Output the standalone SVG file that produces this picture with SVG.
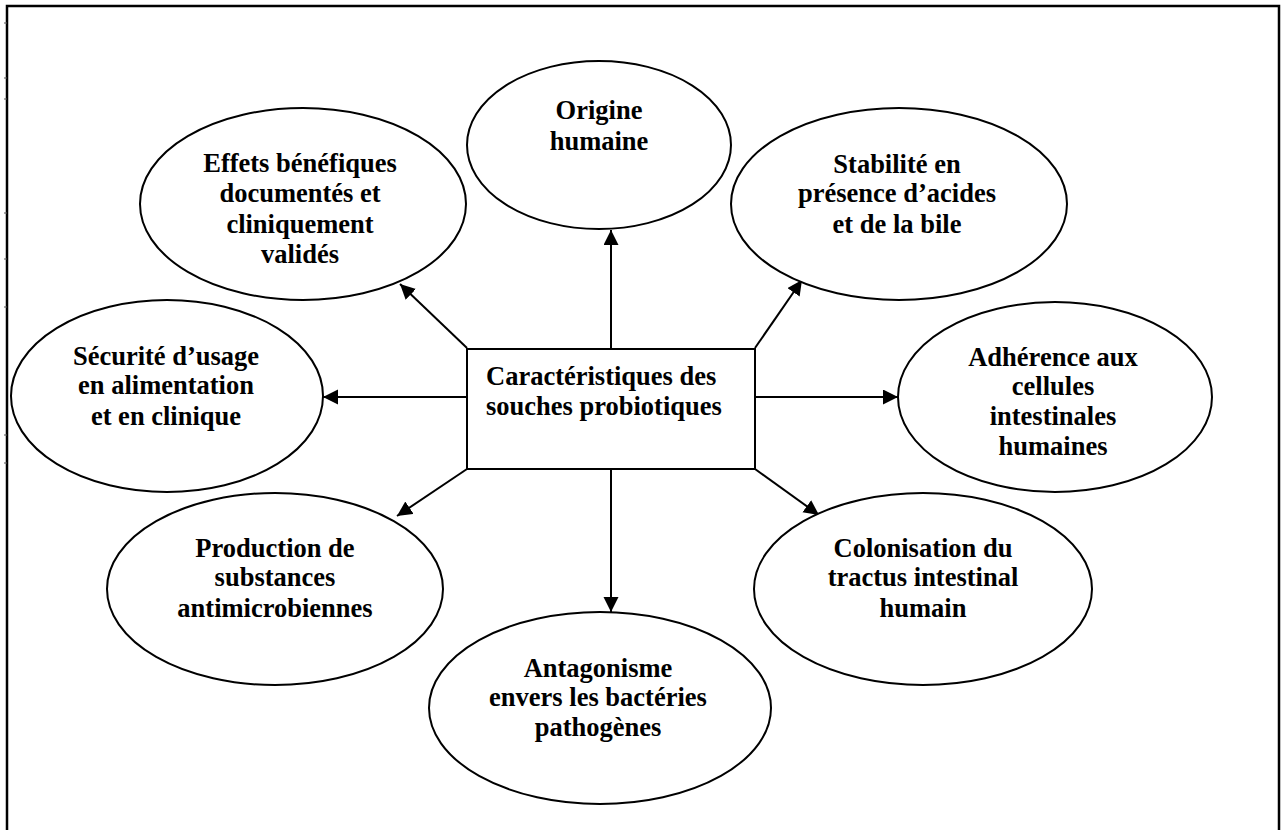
<svg xmlns="http://www.w3.org/2000/svg" width="1282" height="830" viewBox="0 0 1282 830">
<defs>
<marker id="arr" markerUnits="userSpaceOnUse" markerWidth="16" markerHeight="16" refX="15" refY="7.5" orient="auto">
<path d="M0,0 L15,7.5 L0,15 z" fill="#000"/>
</marker>
<style>
.n{fill:#fff;stroke:#000;stroke-width:2}
.t{font-family:"Liberation Serif","Times New Roman",serif;font-weight:bold;font-size:26.5px;fill:#000;text-anchor:middle}
.l{text-anchor:start}
.c line{stroke:#000;stroke-width:2;marker-end:url(#arr)}
.tick{stroke:#555;stroke-width:1}
</style>
</defs>
<rect x="0" y="0" width="1282" height="830" fill="#fff"/>
<rect id="frame" x="7" y="6" width="1272" height="840" fill="none" stroke="#000" stroke-width="2.5"/>
<g id="ticks">
<line class="tick" x1="4" y1="23" x2="7" y2="23"/>
<line class="tick" x1="4" y1="78" x2="7" y2="78"/>
<line class="tick" x1="4" y1="99" x2="7" y2="99"/>
<line class="tick" x1="4" y1="213" x2="7" y2="213"/>
<line class="tick" x1="4" y1="259" x2="7" y2="259"/>
<line class="tick" x1="4" y1="307" x2="7" y2="307"/>
<line class="tick" x1="4" y1="435" x2="7" y2="435"/>
<line class="tick" x1="4" y1="463" x2="7" y2="463"/>
</g>
<g id="connectors" class="c">
<line x1="611" y1="349" x2="611" y2="230"/>
<line x1="467" y1="348" x2="400" y2="284"/>
<line x1="755" y1="348" x2="802" y2="280"/>
<line x1="467" y1="397" x2="323" y2="397"/>
<line x1="755" y1="397" x2="898" y2="397"/>
<line x1="467" y1="469" x2="397" y2="516"/>
<line x1="755" y1="469" x2="819" y2="515"/>
<line x1="611" y1="469" x2="611" y2="612"/>
</g>
<g id="center">
<rect class="n" x="467" y="349" width="288" height="120"/>
<text class="t l" x="486" y="385">Caractéristiques des</text>
<text class="t l" x="486" y="415">souches probiotiques</text>
</g>
<g id="origine">
<ellipse class="n" cx="599" cy="145" rx="132" ry="84" fill="none"/>
<text class="t" x="599" y="119">Origine</text>
<text class="t" x="599" y="150">humaine</text>
</g>
<g id="effets">
<ellipse class="n" cx="303" cy="204" rx="163" ry="96"/>
<text class="t" x="300" y="172">Effets bénéfiques</text>
<text class="t" x="300" y="202">documentés et</text>
<text class="t" x="300" y="233">cliniquement</text>
<text class="t" x="300" y="263">validés</text>
</g>
<g id="stabilite">
<ellipse class="n" cx="899" cy="204" rx="168" ry="96"/>
<text class="t" x="897" y="173">Stabilité en</text>
<text class="t" x="897" y="202">présence d’acides</text>
<text class="t" x="897" y="233">et de la bile</text>
</g>
<g id="securite">
<ellipse class="n" cx="167" cy="396" rx="156" ry="96"/>
<text class="t" x="166" y="365">Sécurité d’usage</text>
<text class="t" x="166" y="394">en alimentation</text>
<text class="t" x="166" y="425">et en clinique</text>
</g>
<g id="adherence">
<ellipse class="n" cx="1055" cy="397" rx="157" ry="95"/>
<text class="t" x="1053" y="366">Adhérence aux</text>
<text class="t" x="1053" y="395">cellules</text>
<text class="t" x="1053" y="425">intestinales</text>
<text class="t" x="1053" y="455">humaines</text>
</g>
<g id="production">
<ellipse class="n" cx="275" cy="589" rx="168" ry="96"/>
<text class="t" x="275" y="557">Production de</text>
<text class="t" x="275" y="586">substances</text>
<text class="t" x="275" y="617">antimicrobiennes</text>
</g>
<g id="colonisation">
<ellipse class="n" cx="923" cy="589" rx="169" ry="96"/>
<text class="t" x="923" y="557">Colonisation du</text>
<text class="t" x="923" y="586">tractus intestinal</text>
<text class="t" x="923" y="617">humain</text>
</g>
<g id="antagonisme">
<ellipse class="n" cx="600" cy="708" rx="171" ry="96"/>
<text class="t" x="598" y="677">Antagonisme</text>
<text class="t" x="598" y="706">envers les bactéries</text>
<text class="t" x="598" y="736">pathogènes</text>
</g>
</svg>
